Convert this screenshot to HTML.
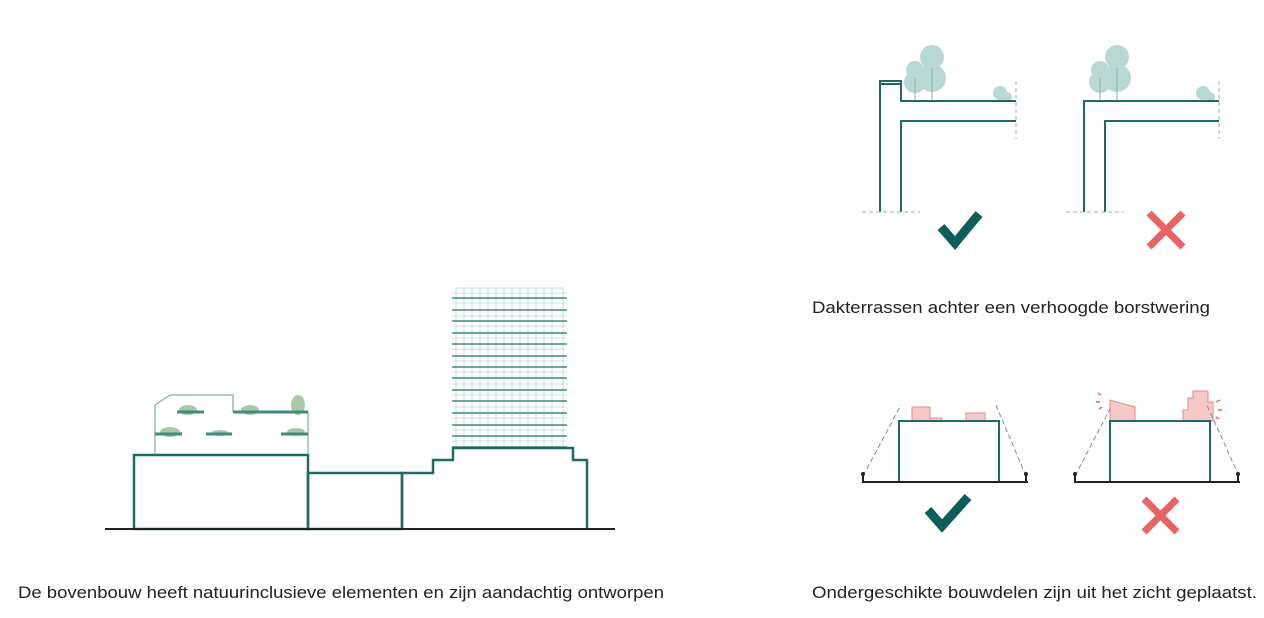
<!DOCTYPE html>
<html><head><meta charset="utf-8"><style>
html,body{margin:0;padding:0;background:#fff;width:1264px;height:618px;overflow:hidden}
text{font-family:"Liberation Sans",sans-serif;font-size:17px;fill:#222}
</style></head><body>
<svg width="1264" height="618" viewBox="0 0 1264 618" xmlns="http://www.w3.org/2000/svg">
<g stroke="#1d6b64" fill="none">
<g stroke="#9ccbc4" stroke-width="0.6">
<rect x="456" y="288" width="107" height="160"/>
<path d="M464 288V448M472 288V448M480 288V448M488 288V448M496 288V448M504 288V448M512 288V448M520 288V448M528 288V448M536 288V448M544 288V448M552 288V448"/>
<path d="M452 293H567M452 303H567M452 316H567M452 326H567M452 338H567M452 349H567M452 361H567M452 372H567M452 384H567M452 395H567M452 407H567M452 418H567M452 430H567M452 441H567"/>
</g>
<g stroke="#3f8a81" stroke-width="1.6">
<path d="M452 298H567M452 310H567M452 321H567M452 333H567M452 344H567M452 356H567M452 367H567M452 378H567M452 390H567M452 401H567M452 413H567M452 425H567M452 436H567M452 447H567"/>
</g>
<g stroke-width="2.5">
<rect x="134" y="455" width="174" height="74"/>
<rect x="308" y="473" width="94" height="56"/>
<path d="M402 529V473H433V460H453V448H573V460H587V529"/>
</g>
<path d="M105 529H615" stroke="#222" stroke-width="2"/>
<path d="M155 455V405L170 395H233V412M308 412V455" stroke="#5e9f96" stroke-width="1"/>
<g fill="#a9c9a6" stroke="none">
<ellipse cx="188" cy="410" rx="9" ry="5"/><ellipse cx="250" cy="410" rx="9" ry="5"/><ellipse cx="298" cy="405" rx="7" ry="10"/>
<ellipse cx="170" cy="432" rx="10" ry="5"/><ellipse cx="220" cy="433" rx="9" ry="3"/><ellipse cx="296" cy="432" rx="9" ry="4"/>
</g>
<g stroke="#3f8a81" stroke-width="3">
<path d="M177 412H204M233 412H308M155 434H182M206 434H232M281 434H308"/>
</g>
<g fill="#b9d8d3" stroke="none">
<circle cx="932" cy="57" r="12"/><circle cx="932" cy="78" r="14"/><circle cx="915" cy="70" r="9"/><circle cx="915" cy="82" r="11"/>
<circle cx="1000" cy="93" r="7"/><circle cx="1007" cy="97" r="5"/>
<circle cx="1117" cy="57" r="12"/><circle cx="1117" cy="78" r="14"/><circle cx="1100" cy="70" r="9"/><circle cx="1100" cy="82" r="11"/>
<circle cx="1203" cy="93" r="7"/><circle cx="1210" cy="97" r="5"/>
</g>
<g stroke="#7fb3ab" stroke-width="1">
<path d="M915 100V78M932 100V68M1100 100V78M1117 100V68"/>
</g>
<g stroke-width="2">
<path d="M880 212V81H901V101H1016M901 212V121H1016"/>
<path d="M880 84H901"/>
<path d="M1084 212V101H1219M1105 212V121H1219"/>
</g>
<g stroke="#aaa" stroke-width="1" stroke-dasharray="4 3">
<path d="M862 212H920M1066 212H1124M1016 81V139M1219 81V139"/>
</g>
<path d="M941 227L955 243L979 214" stroke="#0d5e58" stroke-width="9"/>
<path d="M1149 213L1183 247M1183 213L1149 247" stroke="#e86464" stroke-width="7"/>
<g fill="#f6c9c9" stroke="#e58a8a" stroke-width="1">
<rect x="912" y="407" width="18" height="14"/><rect x="930" y="418" width="12" height="3"/><rect x="966" y="413" width="19" height="8"/>
<path d="M1110 421V400L1135 407V421Z"/>
<path d="M1183 421V410H1188V398H1193V391H1208V402H1213V421Z"/>
</g>
<g stroke="#888" stroke-width="1" stroke-dasharray="5 3">
<path d="M863 476L901 405M1026 476L995 403M1075 476L1112 405M1239 476L1206 403"/>
</g>
<g stroke-width="2">
<path d="M899 482V421H999V482M1110 482V421H1210V482"/>
</g>
<path d="M862 482H1028M1074 482H1240" stroke="#222" stroke-width="2"/>
<g fill="#222" stroke="none">
<rect x="862" y="473" width="2" height="9"/><circle cx="863" cy="474" r="2"/>
<rect x="1025" y="473" width="2" height="9"/><circle cx="1026" cy="474" r="2"/>
<rect x="1074" y="473" width="2" height="9"/><circle cx="1075" cy="474" r="2"/>
<rect x="1237" y="473" width="2" height="9"/><circle cx="1238" cy="474" r="2"/>
</g>
<g stroke="#e86464" stroke-width="1.5">
<path d="M1098 393l3 2M1096 402l4 0M1099 409l3-2M1216 402l4-2M1218 410l4 0M1216 417l3 2"/>
</g>
<path d="M928 510L942 526L968 497" stroke="#0d5e58" stroke-width="9"/>
<path d="M1144 499L1177 532M1177 499L1144 532" stroke="#e86464" stroke-width="7"/>
</g>
<text x="812" y="313" textLength="398" lengthAdjust="spacingAndGlyphs">Dakterrassen achter een verhoogde borstwering</text>
<text x="18" y="598" textLength="646" lengthAdjust="spacingAndGlyphs">De bovenbouw heeft natuurinclusieve elementen en zijn aandachtig ontworpen</text>
<text x="812" y="598" textLength="445" lengthAdjust="spacingAndGlyphs">Ondergeschikte bouwdelen zijn uit het zicht geplaatst.</text>
</svg>
</body></html>
